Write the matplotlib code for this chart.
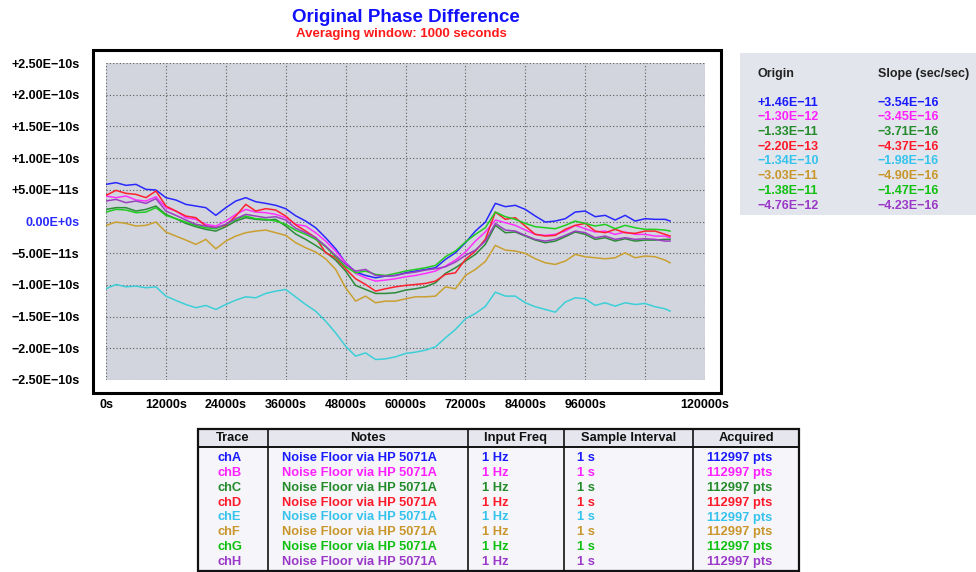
import matplotlib
matplotlib.use("Agg")
import matplotlib.pyplot as plt
from matplotlib.patches import Rectangle
from matplotlib.lines import Line2D
from matplotlib.ticker import FixedLocator, FixedFormatter
import numpy as np

plt.rcParams['font.family'] = ['Liberation Sans', 'DejaVu Sans']

# ---------------- data ----------------
t_ks = [0, 2, 4, 6, 8, 10, 12, 14, 16, 18, 20, 22, 24, 26, 28, 30, 32, 34, 36, 38,
        40, 42, 44, 46, 48, 50, 52, 54, 56, 58, 60, 62, 64, 66, 68, 70, 72, 74, 76,
        78, 80, 82, 84, 86, 88, 90, 92, 94, 96, 98, 100, 102, 104, 106, 108, 110, 112, 113]

chA = [5.86, 6.13, 5.70, 5.86, 5.07, 4.97, 3.76, 3.39, 2.70, 2.44, 2.18, 0.97, 2.18, 3.23, 3.76, 3.12, 2.86, 2.55, 2.02, 0.90,
       0.07, -0.98, -2.56, -4.30, -6.51, -7.98, -8.51, -8.88, -8.61, -8.51, -8.09, -7.82, -7.56, -7.30, -5.98, -4.93, -3.35, -1.51, -0.10,
       2.86, 2.34, 2.55, 1.91, 0.86, -0.09, 0.07, 0.44, 1.49, 1.65, 0.76, 0.97, 0.23, 0.97, 0.07, 0.44, 0.34, 0.34, 0.07]
chB = [4.02, 3.76, 4.02, 3.39, 3.23, 3.91, 2.18, 1.65, 0.60, 0.34, -0.45, -0.72, 0.07, 1.12, 1.91, 1.49, 1.39, 1.12, 0.60, -0.45,
       -0.72, -1.77, -3.09, -4.66, -6.51, -8.19, -8.88, -9.40, -9.24, -9.03, -8.72, -8.51, -8.19, -7.82, -7.03, -6.09, -4.82, -3.09, -1.64,
       0.23, -0.19, -0.61, -1.35, -2.03, -2.19, -2.03, -1.51, -0.61, -1.14, -1.66, -1.51, -2.03, -1.66, -2.03, -2.03, -2.30, -2.30, -2.56]
chC = [1.91, 2.18, 2.18, 1.65, 1.91, 2.44, 1.12, 0.44, -0.30, -0.82, -1.24, -1.51, -0.82, 0.07, 0.60, 0.34, 0.23, 0.34, -0.72, -1.98,
       -2.82, -3.77, -4.82, -6.09, -7.82, -10.08, -10.72, -11.35, -11.35, -11.24, -10.82, -10.61, -10.30, -9.66, -8.19, -7.30, -6.24, -5.19, -3.60,
       -0.61, -1.77, -1.66, -2.30, -2.93, -3.35, -3.09, -2.40, -1.66, -2.03, -2.82, -2.56, -3.09, -2.72, -3.09, -2.93, -2.93, -2.82, -2.82]
chD = [4.12, 4.91, 4.44, 4.28, 3.76, 4.81, 2.44, 1.65, 0.86, 0.60, -0.72, -0.98, -0.61, 0.86, 2.70, 1.65, 2.02, 1.81, 0.86, -0.53,
       -1.51, -2.56, -4.93, -5.72, -7.45, -9.03, -9.93, -10.98, -10.61, -10.30, -10.08, -9.93, -9.77, -9.40, -8.35, -8.09, -5.98, -4.66, -2.80,
       1.49, 0.34, 0.60, -0.72, -2.03, -2.30, -2.19, -1.24, -0.61, -0.30, -1.51, -1.77, -1.24, -1.77, -1.87, -1.51, -1.51, -2.03, -2.30]
chE = [-10.61, -9.93, -10.30, -10.19, -10.45, -10.30, -11.77, -12.45, -13.09, -13.60, -13.24, -13.87, -13.09, -12.40, -11.88, -12.03, -11.35, -10.98, -10.72, -11.90,
       -13.09, -14.14, -15.72, -17.56, -19.66, -21.24, -20.72, -21.77, -21.66, -21.35, -20.82, -20.61, -20.29, -19.77, -18.35, -17.03, -15.35, -14.51, -13.40,
       -11.14, -11.77, -11.77, -12.82, -13.45, -13.87, -14.30, -12.72, -12.03, -12.19, -13.24, -12.82, -13.35, -12.82, -13.09, -12.93, -13.45, -13.77, -14.14]
chF = [-0.61, -0.09, -0.30, -0.72, -0.61, -0.09, -1.66, -2.30, -2.93, -3.61, -2.82, -4.30, -3.09, -2.30, -1.77, -1.51, -1.35, -1.77, -2.19, -3.35,
       -4.14, -4.82, -5.88, -7.56, -10.45, -12.56, -11.77, -12.82, -12.56, -12.56, -12.19, -11.88, -11.88, -11.77, -10.30, -10.61, -8.51, -7.56, -6.30,
       -3.77, -4.51, -4.66, -5.03, -5.88, -6.51, -6.77, -6.24, -5.19, -5.56, -5.72, -5.88, -5.72, -4.93, -5.72, -5.45, -5.56, -6.09, -6.51]
chG = [1.49, 1.91, 1.81, 1.39, 1.49, 2.18, 0.97, 0.44, -0.09, -0.61, -0.98, -1.14, -0.45, 0.34, 0.86, 0.44, 0.34, 0.07, -0.45, -1.38,
       -2.03, -2.82, -3.98, -5.56, -7.14, -8.09, -7.82, -8.35, -8.51, -8.19, -7.82, -7.56, -7.30, -6.93, -5.56, -4.66, -3.24, -2.03, -0.98,
       1.49, 0.76, 0.34, -0.30, -0.82, -0.98, -1.14, -0.61, 0.07, -0.30, -0.72, -0.45, -1.14, -0.61, -0.98, -1.24, -1.24, -1.35, -1.51]
chH = [3.23, 3.49, 2.97, 3.23, 2.86, 3.60, 1.65, 0.97, 0.23, -0.45, -0.72, -0.98, -0.45, 0.44, 1.12, 0.86, 0.60, 0.76, 0.23, -1.06,
       -1.77, -2.56, -3.88, -5.35, -6.77, -7.82, -7.56, -8.51, -8.61, -8.51, -8.19, -7.98, -7.66, -7.45, -7.14, -6.40, -5.35, -4.51, -3.10,
       -0.30, -1.35, -1.51, -2.19, -2.82, -3.09, -2.82, -2.19, -1.51, -1.77, -2.56, -2.30, -2.82, -2.56, -2.82, -2.72, -2.82, -3.09, -3.09]

traces = ['chA', 'chB', 'chC', 'chD', 'chE', 'chF', 'chG', 'chH']
series = [chA, chB, chC, chD, chE, chF, chG, chH]
colors = ['#1a1aff', '#ff20ff', '#238b2a', '#ff1a2a', '#35c3ec', '#c8962a', '#10c010', '#9a38c8']
line_colors = ['#2828ff', '#ff30ff', '#2e8b3a', '#ff2030', '#3ccfd8', '#c9a030', '#20cc20', '#9a40c0']

origins = ['+1.46E\u221211', '\u22121.30E\u221212', '\u22121.33E\u221211', '\u22122.20E\u221213',
           '\u22121.34E\u221210', '\u22123.03E\u221211', '\u22121.38E\u221211', '\u22124.76E\u221212']
slopes = ['\u22123.54E\u221216', '\u22123.45E\u221216', '\u22123.71E\u221216', '\u22124.37E\u221216',
          '\u22121.98E\u221216', '\u22124.90E\u221216', '\u22121.47E\u221216', '\u22124.23E\u221216']

notes = ['Noise Floor via HP 5071A'] * 8
freqs = ['1 Hz'] * 8
intervals = ['1 s'] * 8
acquired = ['112997 pts'] * 8
headers = ['Trace', 'Notes', 'Input Freq', 'Sample Interval', 'Acquired']

yticks = [2.5e-10, 2.0e-10, 1.5e-10, 1.0e-10, 5.0e-11, 0.0, -5.0e-11, -1.0e-10, -1.5e-10, -2.0e-10, -2.5e-10]
ylabels = ['+2.50E\u221210s', '+2.00E\u221210s', '+1.50E\u221210s', '+1.00E\u221210s', '+5.00E\u221211s',
           '0.00E+0s', '\u22125.00E\u221211s', '\u22121.00E\u221210s', '\u22121.50E\u221210s',
           '\u22122.00E\u221210s', '\u22122.50E\u221210s']
xgrid = [0, 12000, 24000, 36000, 48000, 60000, 72000, 84000, 96000, 108000, 120000]
xlabels = ['0s', '12000s', '24000s', '36000s', '48000s', '60000s', '72000s', '84000s', '96000s', '', '120000s']

# ---------------- figure ----------------
W, H = 976, 572
fig = plt.figure(figsize=(W / 100, H / 100), dpi=100)
fig.patch.set_facecolor('white')


def fx(x):
    return x / W


def fy(y):
    return 1 - y / H


# outer black frame
fig.add_artist(Rectangle((fx(93), fy(393)), (721 - 93) / W, (393 - 50) / H,
                         transform=fig.transFigure, facecolor='white',
                         edgecolor='black', lw=2.2, zorder=-5))

ax = fig.add_axes([fx(106), fy(380), (705 - 106) / W, (380 - 63) / H])
ax.set_facecolor('#d2d5dd')
for s in ax.spines.values():
    s.set_visible(False)

t = np.array(t_ks) * 1000.0
for vals, c in zip(series, line_colors):
    ax.plot(t, np.array(vals) * 1e-11, color=c, lw=1.1, zorder=3)

ax.set_xlim(0, 120000)
ax.set_ylim(-2.5e-10, 2.5e-10)
ax.xaxis.set_major_locator(FixedLocator(xgrid))
ax.xaxis.set_major_formatter(FixedFormatter(xlabels))
ax.yaxis.set_major_locator(FixedLocator(yticks))
ax.yaxis.set_major_formatter(FixedFormatter(ylabels))
ax.grid(True, color='#5a5a5a', linestyle=(0, (1, 2)), lw=0.8, zorder=1)
ax.tick_params(axis='both', length=0, labelsize=9)
ax.tick_params(axis='y', pad=19)
ax.tick_params(axis='x', pad=14)
for lab in ax.get_yticklabels() + ax.get_xticklabels():
    lab.set_fontweight('bold')
for lab, v in zip(ax.get_yticklabels(), yticks):
    if v == 0.0:
        lab.set_color('#2a2aff')

# titles
fig.text(fx(406), fy(17), 'Original Phase Difference', color='#1010ff',
         fontsize=13.5, fontweight='bold', ha='center', va='center')
fig.text(fx(401), fy(34), 'Averaging window: 1000 seconds', color='#ff1a1a',
         fontsize=9.5, fontweight='bold', ha='center', va='center')

# right panel
fig.add_artist(Rectangle((fx(740), fy(215)), (976 - 740) / W, (215 - 53) / H,
                         transform=fig.transFigure, facecolor='#e3e5ec',
                         edgecolor='none', zorder=-5))
fig.text(fx(758), fy(74), 'Origin', fontsize=9, fontweight='bold', ha='left', va='center', color='#222222')
fig.text(fx(878), fy(74), 'Slope (sec/sec)', fontsize=9, fontweight='bold', ha='left', va='center', color='#222222')
for i in range(8):
    yy = 102.7 + i * 14.7
    fig.text(fx(758), fy(yy), origins[i], fontsize=9, fontweight='bold', color=colors[i], ha='left', va='center')
    fig.text(fx(878), fy(yy), slopes[i], fontsize=9, fontweight='bold', color=colors[i], ha='left', va='center')

# bottom table
tx0, tx1 = 198, 799
ty0, thead, ty1 = 429, 447, 571
col_edges = [198, 268, 468, 564, 693, 799]
fig.add_artist(Rectangle((fx(tx0), fy(thead)), (tx1 - tx0) / W, (thead - ty0) / H,
                         transform=fig.transFigure, facecolor='#e6e7ee', edgecolor='none', zorder=-4))
fig.add_artist(Rectangle((fx(tx0), fy(ty1)), (tx1 - tx0) / W, (ty1 - thead) / H,
                         transform=fig.transFigure, facecolor='#f5f5fa', edgecolor='none', zorder=-4))
fig.add_artist(Rectangle((fx(tx0), fy(ty1)), (tx1 - tx0) / W, (ty1 - ty0) / H,
                         transform=fig.transFigure, facecolor='none', edgecolor='#111111', lw=1.6, zorder=2))
fig.add_artist(Line2D([fx(tx0), fx(tx1)], [fy(thead), fy(thead)], transform=fig.transFigure,
                      color='#111111', lw=1.4))
for xe in col_edges[1:-1]:
    fig.add_artist(Line2D([fx(xe), fx(xe)], [fy(ty0), fy(ty1)], transform=fig.transFigure,
                          color='#111111', lw=1.2))
for j, h in enumerate(headers):
    cx = (col_edges[j] + col_edges[j + 1]) / 2
    fig.text(fx(cx), fy(438), h, fontsize=9.3, fontweight='bold', ha='center', va='center', color='#111111')

col_text_x = [217, 282, 482, 577, 707]
for i in range(8):
    yy = 458.3 + i * 14.8
    row = [traces[i], notes[i], freqs[i], intervals[i], acquired[i]]
    for j, txt in enumerate(row):
        fig.text(fx(col_text_x[j]), fy(yy), txt, fontsize=9.3, fontweight='bold',
                 color=colors[i], ha='left', va='center')

fig.savefig('out.png', dpi=100, facecolor='white')
